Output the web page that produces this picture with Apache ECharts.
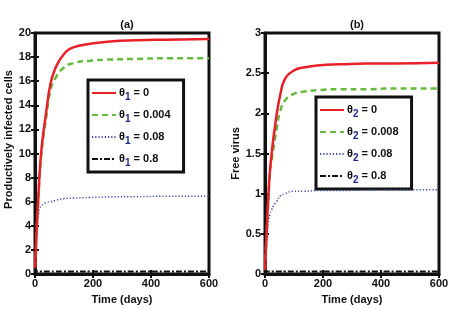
<!DOCTYPE html>
<html>
<head>
<meta charset="utf-8">
<script src="https://cdn.jsdelivr.net/npm/echarts@6/dist/echarts.min.js"></script>
<style>
  html, body { margin: 0; padding: 0; background: #fff; }
  #main { width: 465px; height: 310px; }
</style>
</head>
<body>
<div id="main"></div>
<script>
// 时间点 (days)
var days = [0, 3, 6, 12, 17, 23, 29, 35, 40, 52, 69, 98, 132, 190, 259, 350, 450, 600];

// (a) Productively infected cells
var cellsTheta0    = [0.5, 2.0, 3.8, 6.6, 8.8, 10.5, 11.8, 12.8, 13.7, 15.6, 17.0, 18.2, 18.8, 19.1, 19.3, 19.4, 19.45, 19.5];
var cellsTheta004  = [0.5, 2.0, 3.7, 6.4, 8.5, 10.2, 11.4, 12.4, 13.2, 15.1, 16.2, 17.1, 17.5, 17.7, 17.8, 17.85, 17.9, 17.9];
var cellsTheta08   = [0.5, 2.0, 3.3, 4.9, 5.5, 5.7, 5.8, 5.9, 5.95, 6.0, 6.1, 6.25, 6.3, 6.35, 6.4, 6.42, 6.45, 6.45];
var cellsTheta8    = [0.6, 0.3, 0.25, 0.2, 0.2, 0.2, 0.2, 0.2, 0.2, 0.2, 0.2, 0.2, 0.2, 0.2, 0.2, 0.2, 0.2, 0.2];

// (b) Free virus
var virusTheta0    = [0.05, 0.3, 0.55, 0.99, 1.28, 1.5, 1.69, 1.85, 1.98, 2.22, 2.43, 2.53, 2.57, 2.6, 2.61, 2.62, 2.62, 2.63];
var virusTheta008  = [0.05, 0.3, 0.52, 0.95, 1.28, 1.42, 1.56, 1.7, 1.81, 2.02, 2.16, 2.24, 2.27, 2.29, 2.3, 2.3, 2.31, 2.31];
var virusTheta08   = [0.05, 0.2, 0.41, 0.66, 0.74, 0.8, 0.85, 0.88, 0.9, 0.97, 1.0, 1.03, 1.03, 1.04, 1.04, 1.045, 1.05, 1.05];
var virusTheta8    = [0.06, 0.04, 0.03, 0.03, 0.03, 0.03, 0.03, 0.03, 0.03, 0.03, 0.03, 0.03, 0.03, 0.03, 0.03, 0.03, 0.03, 0.03];

var namesA = ['θ1 = 0', 'θ1 = 0.004', 'θ1 = 0.08', 'θ1 = 0.8'];
var namesB = ['θ2 = 0', 'θ2 = 0.008', 'θ2 = 0.08', 'θ2 = 0.8'];

var myChart = echarts.init(document.getElementById('main'));

var FONT = 'Liberation Sans';
var INK = '#111';

function pairs(ys) {
    return days.map(function (d, i) { return [d, ys[i]]; });
}

// 四种线型
var styles = [
    { color: '#e8202a', width: 2.5, type: 'solid' },
    { color: '#66bb3f', width: 2.5, type: [6, 4] },
    { color: '#3a4ea6', width: 1.5, type: [1.2, 2] },
    { color: '#111111', width: 2, type: [6, 2, 2, 2] }
];

function mkSeries(name, ys, idx, k) {
    return {
        name: name,
        type: 'line',
        xAxisIndex: idx,
        yAxisIndex: idx * 2,
        data: pairs(ys),
        smooth: true,
        symbol: 'none',
        color: styles[k].color,
        lineStyle: styles[k],
        z: 10 - k
    };
}

// θ + 下标
function legendFmt(name) {
    var sub = name.charAt(1);
    return '{t|θ}{s|' + sub + '}{t|' + name.slice(2) + '}';
}
var legendRich = {
    t: { fontFamily: FONT, fontWeight: 'bold', fontSize: 11, color: INK, lineHeight: 16 },
    s: { fontFamily: FONT, fontWeight: 'bold', fontSize: 10, color: '#1a2a8a', lineHeight: 16, padding: [8, 0, 0, 0] }
};

function mkLegend(names, left, top) {
    return {
        data: names,
        orient: 'vertical',
        left: left,
        top: top,
        itemWidth: 24,
        itemHeight: 14,
        itemGap: 4,
        padding: [4, 13, 4, 3],
        borderColor: INK,
        borderWidth: 3,
        backgroundColor: '#fff',
        selectedMode: false,
        itemStyle: { opacity: 0 },
        formatter: legendFmt,
        textStyle: { rich: legendRich, padding: [0, 0, 0, -2] }
    };
}

function mkX(idx, pos) {
    var bottom = pos === 'bottom';
    return {
        type: 'value',
        gridIndex: idx,
        position: pos,
        min: 0, max: 600, interval: 200,
        name: bottom ? 'Time (days)' : '',
        nameLocation: 'middle',
        nameGap: 20,
        nameTextStyle: { fontFamily: FONT, fontWeight: 'bold', fontSize: 11, color: INK },
        axisLine: { show: bottom, lineStyle: { color: INK, width: 3 } },
        axisTick: { show: true, inside: true, length: 4, lineStyle: { color: INK, width: 2 } },
        axisLabel: { show: bottom, fontFamily: FONT, fontWeight: 'bold', fontSize: 11, color: INK, margin: 4 },
        splitLine: { show: false }
    };
}

function mkY(idx, pos, max, interval, name, gap, shift) {
    var left = pos === 'left';
    return {
        type: 'value',
        gridIndex: idx,
        position: pos,
        min: 0, max: max, interval: interval,
        name: left ? name : '',
        nameLocation: 'middle',
        nameGap: gap,
        nameRotate: 90,
        nameTextStyle: { fontFamily: FONT, fontWeight: 'bold', fontSize: 11, color: INK, padding: [0, 0, 0, shift || 0] },
        axisLine: { show: left, lineStyle: { color: INK, width: 3 } },
        axisTick: { show: true, inside: true, length: 4, lineStyle: { color: INK, width: 2 } },
        axisLabel: { show: left, fontFamily: FONT, fontWeight: 'bold', fontSize: 11, color: INK, margin: 4 },
        splitLine: { show: false }
    };
}

var option = {
    backgroundColor: '#fff',
    animation: false,
    title: [
        { text: '(a)', left: 122, top: 14, textAlign: 'center',
          textStyle: { fontFamily: FONT, fontWeight: 'bold', fontSize: 11, color: INK } },
        { text: '(b)', left: 352, top: 14, textAlign: 'center',
          textStyle: { fontFamily: FONT, fontWeight: 'bold', fontSize: 11, color: INK } }
    ],
    grid: [
        { left: 35, right: 256, top: 33, bottom: 33, show: true, borderColor: INK, borderWidth: 3 },
        { left: 265, right: 26, top: 33, bottom: 33, show: true, borderColor: INK, borderWidth: 3 }
    ],
    legend: [mkLegend(namesA, 88, 80), mkLegend(namesB, 316, 97)],
    xAxis: [mkX(0, 'bottom'), mkX(1, 'bottom'), mkX(0, 'top'), mkX(1, 'top')],
    yAxis: [
        mkY(0, 'left', 20, 2, 'Productively infected cells', 21, 28),
        mkY(0, 'right', 20, 2, '', 0),
        mkY(1, 'left', 3, 0.5, 'Free virus', 22, 0),
        mkY(1, 'right', 3, 0.5, '', 0)
    ],
    series: [
        mkSeries(namesA[0], cellsTheta0, 0, 0),
        mkSeries(namesA[1], cellsTheta004, 0, 1),
        mkSeries(namesA[2], cellsTheta08, 0, 2),
        mkSeries(namesA[3], cellsTheta8, 0, 3),
        mkSeries(namesB[0], virusTheta0, 1, 0),
        mkSeries(namesB[1], virusTheta008, 1, 1),
        mkSeries(namesB[2], virusTheta08, 1, 2),
        mkSeries(namesB[3], virusTheta8, 1, 3)
    ]
};

myChart.setOption(option);
</script>
</body>
</html>
